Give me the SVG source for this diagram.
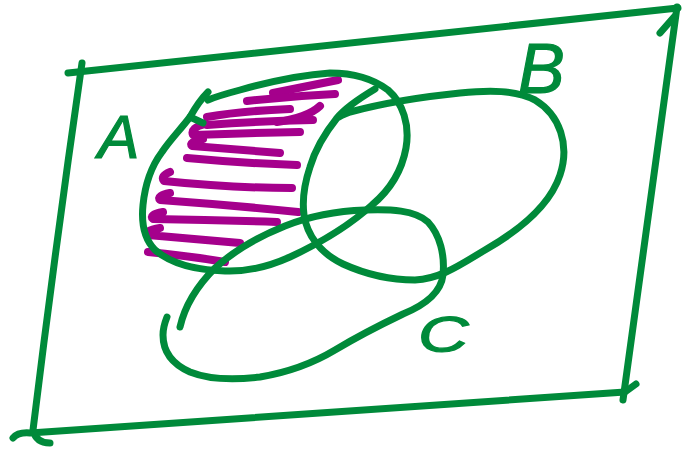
<svg xmlns="http://www.w3.org/2000/svg" width="689" height="453" viewBox="0 0 689 453">
  <style>
    .g { fill: none; stroke: #008a3a; stroke-width: 7; stroke-linecap: round; stroke-linejoin: round; }
    .m { fill: none; stroke: #a5008c; stroke-width: 8; stroke-linecap: round; stroke-linejoin: round; }
    .lbl { fill: #008a3a; stroke: #008a3a; stroke-width: 1.2; font-family: "Liberation Sans", Arial, sans-serif; font-style: italic; }
  </style>
  <rect width="689" height="453" fill="#ffffff"/>
  <g id="frame">
    <path class="g" d="M68,73 Q380,40 678,8"/>
    <path class="g" d="M677,7 Q650,200 623,400"/>
    <path class="g" d="M660,33 L674,17"/>
    <path class="g" d="M13,438 Q18,432 30,433 Q330,412 625,392 L636,384"/>
    <path class="g" d="M82,63 Q55,250 33,430 Q36,443 50,443"/>
  </g>
  <g id="hatching">
    <path class="m" d="M273,93 L338,80"/>
    <path class="m" d="M247,101 Q290,96 335,94"/>
    <path class="m" d="M207,117 Q240,111 290,109"/>
    <path class="m" d="M277,122 Q307,118 320,106"/>
    <path class="m" d="M207,125 Q260,121 313,120"/>
    <path class="m" d="M205,124 Q190,128 193,135 Q250,133 300,132"/>
    <path class="m" d="M203,139 Q188,142 192,146 Q240,150 280,153"/>
    <path class="m" d="M187,158 Q240,163 297,165"/>
    <path class="m" d="M170,172 Q160,176 164,181 Q230,188 292,188"/>
    <path class="m" d="M170,193 Q156,196 160,200 Q230,205 298,212"/>
    <path class="m" d="M163,212 Q148,215 153,219 Q215,220 277,222"/>
    <path class="m" d="M160,228 Q143,231 148,235 Q195,239 240,243"/>
    <path class="m" d="M148,252 Q190,256 225,262"/>
  </g>
  <g id="set-A">
    <path class="g" d="M208,92 C200,100 195,108 190,117 C180,130 170,140 162,152 C150,168 145,185 143,205 C141,225 145,240 155,250 C170,263 195,270 225,271 C250,272 270,266 290,257 C320,243 350,225 372,205 C390,190 402,170 406,148 C410,125 403,103 388,90 C372,78 350,73 330,73 C300,75 265,83 240,90 C225,94 215,97 208,100"/>
    <path class="g" d="M190,117 L203,123"/>
  </g>
  <g id="set-B">
    <path class="g" d="M375,89 C360,98 345,108 337,118 C325,133 315,150 310,167 C304,185 302,200 304,215 C307,235 320,253 343,264 C365,274 390,280 415,280 C440,279 460,265 485,250 C520,230 550,205 560,175 C570,145 560,115 535,100 C515,90 490,90 460,93 C420,97 380,104 350,112 C345,114 340,116 337,118"/>
  </g>
  <g id="set-C">
    <path class="g" d="M180,327 C185,305 198,285 215,268 C235,250 260,236 285,226 C310,216 335,211 365,210 C390,209 415,210 428,222 C440,235 445,255 443,275 C441,292 425,305 403,314 C380,325 360,335 335,350 C315,362 290,372 260,377 C235,380 210,380 190,372 C172,364 163,352 163,335 C163,328 165,322 167,317"/>
  </g>
  <g id="labels">
    <text class="lbl" x="98" y="158" font-size="62">A</text>
    <text class="lbl" x="518" y="93" font-size="70">B</text>
    <text class="lbl" transform="translate(418,352) scale(1.4,1)" x="0" y="0" font-size="50">C</text>
  </g>
</svg>
